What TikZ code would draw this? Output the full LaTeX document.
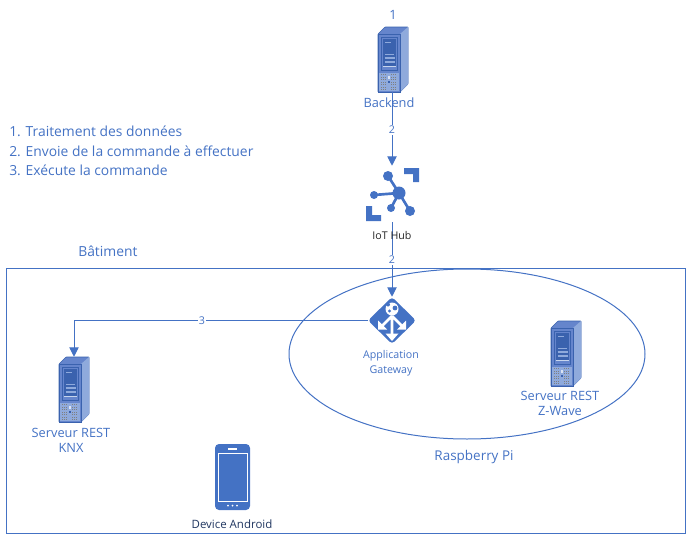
\documentclass[tikz,border=0pt]{standalone}
\usepackage{fontspec}
\setmainfont{Open Sans}
\usetikzlibrary{arrows.meta,shapes.geometric}
\definecolor{az}{HTML}{4472C4}
\definecolor{azd}{HTML}{3A62AE}
\definecolor{azl}{HTML}{6585CC}
\definecolor{azm}{HTML}{8FAADC}
\tikzset{
  lbl/.style={text=az,font=\fontsize{9.6pt}{11.4pt}\selectfont,align=center,inner sep=0pt},
  lnk/.style={az,line width=0.75pt,-{Triangle[length=7pt,width=7pt]}},
  lbg/.style={fill=white,text=az,font=\fontsize{8pt}{9pt}\selectfont,inner sep=1pt},
  iconbox/.style={inner sep=0pt,minimum width=#1*.75pt,minimum height=#1*.75pt},
  side/.style={text=az,font=\fontsize{10.4pt}{12pt}\selectfont,inner sep=0pt,anchor=west},
  container/.style={draw=az,line width=.75pt,inner sep=0pt},
  server/.pic={
    \fill[azl,draw=azd,line width=.5pt,rounded corners=.5pt] (0,7)--(7,0)--(30,0)--(30,57)--(22,65)--(0,65)--cycle;
    \fill[azm] (22,7)--(30,0)--(30,57)--(22,65)--cycle;
    \fill[azl,draw=azd,line width=.7pt] (0,7) rectangle (22,65);
    \fill[azl,draw=azd,line width=.5pt] (3,10) rectangle (19.5,43);
    \fill[azd] (5,12) rectangle (18,40);
    \draw[azm,line width=.5pt] (7,15.5)--(13,15.5) (7,27)--(16,27);
    \draw[azm,line width=.9pt] (6.5,31)--(16.5,31) (6.5,35)--(16.5,35);
    \draw[white!70!az,line width=.6pt] (5,39.5)--(18,39.5);
    \fill[azm] (1,46) rectangle (21,64);
    \foreach \y in {47.5,50,52.5,55,57.5,60,62.5}{
      \draw[gray,line width=.6pt,dash pattern=on 1pt off .5pt] (3,\y)--(9,\y) (13,\y)--(19,\y);}
    \fill[white!80!az] (10,49) rectangle (12,52);
    \fill[azd] (10,54) rectangle (12,56);
  }
}
\begin{document}
\begin{tikzpicture}[x=0.75pt,y=-0.75pt]
\useasboundingbox (0,0) rectangle (686,539);
% containers
\node[container,ellipse,minimum width=.75*356pt,minimum height=.75*170pt] (rpi) at (467,354) {};
\node[inner sep=0pt,minimum width=.75*678pt,minimum height=.75*264pt] (bat) at (346,401) {};
\draw[az,line width=.75pt] (bat.north west) -- (bat.north east) -- (bat.south east) -- (bat.south west) -- cycle;
% icon anchors
\node[inner sep=0pt,minimum width=22.5pt,minimum height=48.75pt] (be) at (392,59.5) {};
\node[iconbox=56] (hub) at (392,194) {};
\node[iconbox=47] (gw) at (392,320.5) {};
\node[inner sep=0pt,minimum width=22.5pt,minimum height=48.75pt] (knx) at (74,389.5) {};
% servers
\pic at (378,27) {server};
\pic at (59,357) {server};
\pic at (551,321) {server};
% iot hub
\fill[az] (404,168)--(419,168)--(419,182)--(413,182)--(413,174)--(404,174)--cycle;
\fill[az] (366,206)--(372,206)--(372,215)--(381,215)--(381,221)--(366,221)--cycle;
\draw[az,line width=2pt] (399,193)--(388,176) (399,193)--(374,195) (399,193)--(391,208) (399,193)--(410,211);
\fill[az] (399,193) circle[radius=6.5] (388,176) circle[radius=5] (374,195) circle[radius=4] (391,208) circle[radius=4] (410,211) circle[radius=5];
% gateway
\fill[az,rounded corners=2.5pt] (392,297)--(416,320.5)--(392,344)--(368,320.5)--cycle;
\fill[white] (392,309) circle[radius=6.5];
\fill[az] (388,304.5) circle[radius=2] (395,308) circle[radius=2.4] (389.5,311) circle[radius=1.6];
\draw[white,line width=2.1pt] (392,317)--(392,335) (392,316)--(382,326) (392,316)--(402,326);
\fill[white] (392,341)--(385.5,333.5)--(398.5,333.5)--cycle;
\fill[white] (378,329.5)--(378,320.5)--(387,329.5)--cycle;
\fill[white] (406,329.5)--(406,320.5)--(397,329.5)--cycle;
% phone
\fill[az,rounded corners=3pt] (215,444) rectangle (250,510);
\draw[white,line width=.7pt] (218,453.5) rectangle (247,501.5);
\draw[white,line width=1pt] (228,449)--(237,449);
\fill[white] (228,505.5) circle[radius=1] (232.5,505.5) circle[radius=1] (237,505.5) circle[radius=1];
% connectors
\draw[lnk] (be.south) -- (hub.north);
\node[lbg] (l1) at (392,130) {2};
\draw[lnk] (hub.south) -- (gw.north);
\node[lbg] (l2) at (392,260) {2};
\draw[lnk] (gw.west) -| (knx.north);
\node[lbg] (l3) at (202,321) {3};
% labels
\node[lbl] (t1) at (393,15) {1};
\node[lbl] (t2) at (389,103) {Backend};
\node[lbl,text=black!85,font=\fontsize{8pt}{9pt}\selectfont] (t3) at (392,235) {IoT Hub};
\node[lbl,font=\fontsize{8pt}{11pt}\selectfont] (t4) at (391,363.5) {Application\\Gateway};
\node[lbl,font=\fontsize{10.4pt}{12pt}\selectfont,anchor=west] (t5) at (78,251) {Bâtiment};
\node[lbl] (t6) at (71,440.5) {Serveur REST\\KNX};
\node[lbl] (t7) at (560,403.5) {Serveur REST\\Z-Wave};
\node[lbl,font=\fontsize{10.1pt}{12pt}\selectfont] (t8) at (474,457) {Raspberry Pi};
\node[lbl,text=azd!55!black,font=\fontsize{8.6pt}{10pt}\selectfont] (t9) at (232,524) {Device Android};
\node[side] (s1) at (9,131) {1. Traitement des données};
\node[side] (s2) at (9,151) {2. Envoie de la commande à effectuer};
\node[side] (s3) at (9,170) {3. Exécute la commande};
\end{tikzpicture}
\end{document}
